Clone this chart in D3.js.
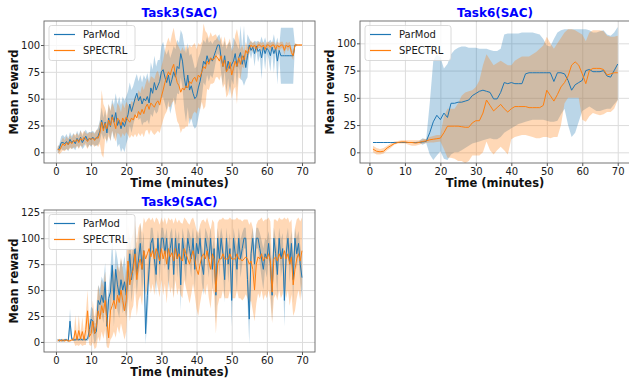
<!DOCTYPE html>
<html>
<head>
<meta charset="utf-8">
<script src="https://cdn.jsdelivr.net/npm/d3@7"></script>
<style>
  body { margin: 0; background: #fff; }
  svg { display: block; font-family: "DejaVu Sans", sans-serif; }
</style>
</head>
<body>
<div id="root"></div>
<script>
// ---- data ----
const seriesNames = ["ParMod", "SPECTRL"];
const xTicks = [0, 10, 20, 30, 40, 50, 60, 70];
const yTicksTask3 = [0, 25, 50, 75, 100];
const yTicksTask6 = [0, 25, 50, 75, 100];
const yTicksTask9 = [0, 25, 50, 75, 100, 125];

// Task3: samples every half minute from 0.5
const task3ParModMean = [
  2, 4, 9, 9, 8, 10, 7, 12, 9, 11,
  8, 13, 10, 14, 9, 12, 15, 11, 13, 12,
  14, 12, 13, 15, 20, 30, 22, 28, 18, 32,
  24, 35, 28, 37, 25, 30, 22, 28, 24, 30,
  35, 45, 38, 44, 50, 55, 48, 52, 45, 50,
  48, 52, 46, 60, 55, 65, 58, 62, 66, 75,
  77, 70, 65, 72, 62, 68, 75, 70, 80, 78,
  92, 85, 70, 60, 72, 58, 62, 55, 50, 52,
  60, 66, 75, 85, 82, 90, 84, 88, 85, 90,
  95, 100, 100, 88, 80, 90, 76, 85, 78, 82,
  85, 92, 80, 88, 93, 82, 90, 79, 90, 100,
  95, 98, 92, 99, 94, 96, 88, 98, 92, 97,
  95, 90, 98, 92, 97, 85, 95, 90, 90, 90,
  90, 90, 90, 90, 90, 100, 100
];
const task3ParModStd = [
  3, 4, 6, 7, 6, 7, 6, 7, 6, 7,
  6, 7, 6, 7, 6, 7, 6, 7, 6, 7,
  6, 6, 7, 8, 10, 12, 10, 12, 10, 13,
  14, 15, 16, 18, 20, 22, 22, 24, 24, 22,
  22, 20, 20, 18, 18, 18, 18, 20, 20, 22,
  20, 22, 20, 24, 22, 25, 22, 24, 20, 24,
  26, 25, 26, 24, 26, 25, 24, 26, 25, 24,
  22, 25, 30, 32, 30, 32, 30, 30, 28, 28,
  28, 26, 24, 20, 20, 18, 18, 16, 16, 14,
  10, 8, 10, 14, 18, 14, 20, 16, 25, 14,
  22, 12, 20, 8, 25, 15, 28, 12, 20, 6,
  8, 4, 12, 4, 10, 6, 20, 4, 15, 4,
  8, 15, 4, 18, 4, 22, 3, 26, 26, 26,
  26, 26, 26, 26, 26, 0, 0
];
const task3SpectrlMean = [
  3, 2, 5, 8, 6, 9, 7, 10, 8, 11,
  10, 12, 9, 13, 11, 14, 12, 10, 13, 12,
  13, 11, 14, 13, 18, 28, 20, 27, 22, 30,
  25, 33, 28, 22, 32, 30, 25, 32, 28, 33,
  30, 28, 32, 30, 35, 32, 38, 35, 40, 36,
  42, 45, 40, 46, 44, 42, 46, 48, 44, 52,
  58, 65, 70, 75, 72, 78, 82, 72, 65, 62,
  56, 60, 58, 62, 60, 66, 64, 68, 70, 66,
  72, 70, 75, 80, 78, 85, 82, 88, 86, 87,
  90, 88, 85, 90, 80, 86, 75, 78, 84, 72,
  78, 85, 80, 88, 82, 90, 86, 95, 92, 97,
  100, 98, 100, 96, 100, 100, 98, 100, 96, 100,
  100, 98, 100, 100, 96, 100, 98, 100, 100, 95,
  100, 98, 100, 93, 90, 100, 100, 100, 100, 100
];
const task3SpectrlStd = [
  3, 4, 5, 6, 5, 6, 5, 6, 5, 6,
  6, 6, 6, 7, 6, 6, 6, 7, 6, 6,
  6, 6, 7, 8, 10, 30, 25, 14, 12, 15,
  14, 13, 14, 12, 14, 13, 12, 14, 13, 14,
  14, 15, 16, 16, 18, 18, 20, 20, 22, 22,
  22, 24, 24, 25, 26, 26, 28, 28, 26, 28,
  28, 30, 32, 32, 30, 32, 34, 34, 36, 36,
  38, 38, 36, 38, 36, 34, 34, 32, 32, 30,
  30, 30, 28, 40, 35, 26, 24, 24, 22, 22,
  20, 18, 18, 18, 20, 22, 24, 24, 22, 22,
  20, 24, 35, 18, 14, 10, 8, 8, 6, 5,
  4, 4, 3, 4, 3, 3, 4, 3, 4, 3,
  3, 4, 3, 3, 4, 3, 4, 3, 3, 4,
  3, 4, 3, 4, 4, 2, 1, 1, 1, 1
];

// Task6: samples every minute from 1
const task6ParModMean = [
  9, 9, 9, 9, 9, 9, 9, 9, 9, 9,
  9, 9, 9, 9, 9.5, 10, 18, 28, 34, 30,
  36, 32, 45, 45, 46, 46, 47, 48, 52, 54,
  56, 57, 56, 55, 49, 49, 55, 64, 63, 64,
  63, 63, 63, 72, 73, 73, 73, 73, 73, 73,
  73, 65, 73, 73, 72, 66, 57, 62, 64, 66,
  75, 76, 74, 74, 74, 75, 70, 69, 75, 81
];
const task6ParModLow = [
  8.5, 8.5, 8.5, 8.5, 8.5, 8.5, 8.5, 8.5, 8.5, 8.5,
  8.5, 8.5, 8.5, 8.5, 7, 8.5, -2, -7, -3, 1,
  -6, -7, -2, 0, 0, 2, 4, 6, 8, 9,
  10, 11, 12, 13, 12, 12, 14, 18, 20, 22,
  24, 26, 27, 28, 29, 30, 30, 30, 30, 29,
  28, 28, 29, 35, 40, 25, 14, 18, 28, 38,
  40, 42, 40, 38, 38, 39, 40, 40, 44, 48
];
const task6ParModHigh = [
  9.5, 9.5, 9.5, 9.5, 9.5, 9.5, 9.5, 9.5, 9.5, 9.5,
  9.5, 9.5, 9.5, 10.5, 13, 12, 45, 84, 90, 87,
  77, 81, 90, 94, 96, 97, 97, 96, 96, 96,
  95, 95, 95, 94, 93, 93, 95, 108, 109, 109,
  109, 109, 110, 110, 110, 110, 109, 108, 104, 98,
  97, 104, 110, 112, 113, 113, 113, 113, 113, 113,
  113, 112, 110, 110, 111, 112, 108, 107, 110, 115
];
const task6SpectrlMean = [
  3, 1, 0.5, 1, 4, 6, 8, 9, 9.5, 9.5,
  9, 9, 8.5, 9, 10, 10.5, 11.5, 12, 12.5, 13,
  18, 24, 24, 24, 24, 23.5, 23, 23, 27, 29,
  29, 36, 48, 43, 38, 41, 44, 40, 37, 40,
  42, 42, 42, 42, 41, 41, 41, 41, 43, 57,
  52, 47, 53, 60, 64, 70, 80, 83, 80, 72,
  63, 75, 77, 77, 77, 76, 71, 72, 73, 73
];
const task6SpectrlLow = [
  0, -2, -2, -1, 2, 4, 7, 8, 8, 8,
  7, 6, 6, 7, 8, 8.5, 9, 9, 9.5, 10,
  3, -5, -5, -6, -8, -8, -10, -8, -3, -3,
  -3, 0, 10, 2, -2, 2, 5, 2, -2, 12,
  14, 15, 16, 16, 15, 14, 13, 13, 14, 14,
  13, 14, 14, 25, 45, 50, 50, 50, 50, 30,
  28, 33, 36, 35, 34, 35, 37, 37, 40, 48
];
const task6SpectrlHigh = [
  6, 4, 3, 4, 6, 8, 10, 10.5, 11, 11,
  11, 11, 11, 11, 12, 12.5, 14, 15, 16, 16,
  33, 40, 40, 40, 45, 52, 55, 56, 57, 60,
  66, 80, 90, 85, 80, 82, 84, 82, 80, 80,
  84, 86, 88, 88, 88, 90, 92, 95, 98, 106,
  100, 95, 100, 105, 110, 113, 113, 112, 110, 108,
  102, 110, 112, 112, 112, 111, 107, 106, 106, 107
];

// Task9: samples every half minute from 0.5
const task9ParModMean = [
  2, 1, 2, 1, 2, 2, 1, 20, 3, 2,
  2, 3, 2, 3, 2, 3, 2, 3, 12, 22,
  20, 8, 10, 40, 36, 45, 38, 58, 15, 42,
  48, 74, 40, 70, 55, 45, 60, 50, 58, 45,
  62, 85, 60, 75, 90, 65, 80, 95, 70, 88,
  8, 45, 70, 95, 100, 80, 65, 100, 75, 100,
  100, 85, 100, 70, 90, 100, 65, 100, 80, 95,
  55, 100, 85, 75, 100, 90, 80, 100, 70, 95,
  85, 100, 75, 65, 100, 90, 80, 100, 70, 90,
  45, 100, 80, 100, 85, 60, 100, 75, 90, 40,
  100, 85, 70, 100, 80, 90, 100, 100, 60, 22,
  85, 100, 75, 100, 100, 90, 80, 70, 85, 80,
  95, 75, 45, 100, 85, 65, 100, 80, 90, 40,
  85, 100, 75, 95, 60, 100, 85, 95, 75, 62
];
const task9ParModStd = [
  1, 1, 1, 1, 1, 1, 1, 12, 2, 1,
  1, 2, 1, 2, 1, 2, 1, 2, 8, 12,
  12, 10, 8, 15, 15, 18, 20, 18, 20, 10,
  22, 25, 25, 20, 25, 22, 20, 22, 25, 22,
  20, 20, 22, 18, 22, 20, 15, 20, 22, 18,
  10, 25, 20, 15, 10, 15, 20, 8, 18, 10,
  10, 15, 10, 20, 15, 10, 22, 10, 18, 12,
  25, 10, 15, 18, 10, 15, 18, 10, 20, 12,
  15, 10, 18, 20, 10, 15, 18, 10, 20, 12,
  28, 10, 18, 10, 15, 22, 10, 18, 15, 25,
  10, 15, 22, 10, 18, 15, 10, 10, 22, 24,
  15, 10, 18, 10, 10, 15, 18, 20, 15, 18,
  12, 18, 25, 10, 15, 22, 10, 18, 15, 25,
  15, 10, 18, 12, 22, 10, 15, 12, 18, 20
];
const task9SpectrlMean = [
  1, 2, 1, 2, 1, 2, 1, 1, 2, 2,
  11, 2, 11, 3, 10, 2, 12, 30, 5, 8,
  20, 8, 15, 30, 22, 35, 28, 40, 20, 4,
  30, 35, 40, 32, 45, 38, 50, 40, 30, 40,
  78, 55, 65, 70, 85, 60, 75, 80, 70, 88,
  80, 85, 90, 82, 88, 80, 90, 85, 78, 90,
  80, 88, 75, 90, 82, 86, 78, 90, 80, 85,
  80, 78, 90, 85, 80, 75, 82, 88, 80, 70,
  65, 75, 82, 85, 80, 88, 78, 70, 85, 80,
  48, 75, 80, 80, 85, 80, 80, 80, 85, 80,
  80, 80, 85, 80, 80, 78, 80, 82, 80, 75,
  78, 70, 50, 75, 82, 80, 85, 78, 82, 80,
  85, 78, 48, 80, 82, 78, 85, 80, 82, 88,
  80, 85, 75, 82, 55, 70, 80, 85, 78, 88
];
const task9SpectrlStd = [
  1, 1, 1, 1, 1, 1, 1, 1, 1, 1,
  15, 5, 15, 5, 14, 5, 15, 20, 8, 12,
  20, 15, 20, 25, 22, 25, 25, 28, 25, 10,
  28, 30, 30, 28, 30, 30, 32, 30, 28, 30,
  35, 35, 35, 35, 32, 35, 35, 35, 35, 32,
  35, 33, 30, 35, 32, 35, 30, 33, 35, 30,
  35, 32, 38, 30, 35, 33, 36, 30, 35, 33,
  35, 36, 30, 33, 35, 38, 36, 32, 35, 38,
  40, 38, 35, 33, 35, 32, 36, 38, 33, 35,
  40, 40, 38, 38, 35, 38, 38, 38, 35, 38,
  38, 38, 35, 38, 38, 38, 38, 36, 38, 38,
  38, 40, 30, 38, 35, 38, 35, 38, 36, 38,
  35, 38, 30, 38, 36, 38, 35, 38, 36, 32,
  38, 35, 40, 36, 30, 40, 38, 35, 38, 32
];

// sample times
const halfMinuteTimes = d3.range(1, 141).map(i => i / 2);
const wholeMinuteTimes = d3.range(1, 71);

// ---- layout ----
const width = 629;
const height = 382;
const colors = ["#1f77b4", "#ff7f0e"];

const fromStd = (times, mean, std) =>
  mean.map((m, i) => ({ t: times[i], mean: m, lo: m - std[i], hi: m + std[i] }));
const fromRange = (times, mean, lo, hi) =>
  mean.map((m, i) => ({ t: times[i], mean: m, lo: lo[i], hi: hi[i] }));

const panels = [
  {
    title: "Task3(SAC)", left: 44, right: 315, top: 21, bottom: 163,
    xDomain: [-3.4, 73.7], yDomain: [-10, 122.4], yTicks: yTicksTask3,
    series: [
      fromStd(halfMinuteTimes, task3ParModMean, task3ParModStd),
      fromStd(halfMinuteTimes, task3SpectrlMean, task3SpectrlStd)
    ]
  },
  {
    title: "Task6(SAC)", left: 360, right: 630, top: 21, bottom: 163,
    xDomain: [-2.66, 73.46], yDomain: [-9.8, 120.5], yTicks: yTicksTask6,
    series: [
      fromRange(wholeMinuteTimes, task6ParModMean, task6ParModLow, task6ParModHigh),
      fromRange(wholeMinuteTimes, task6SpectrlMean, task6SpectrlLow, task6SpectrlHigh)
    ]
  },
  {
    title: "Task9(SAC)", left: 44, right: 315, top: 210, bottom: 352,
    xDomain: [-3.4, 73.7], yDomain: [-9.7, 127.2], yTicks: yTicksTask9,
    series: [
      fromStd(halfMinuteTimes, task9ParModMean, task9ParModStd),
      fromStd(halfMinuteTimes, task9SpectrlMean, task9SpectrlStd)
    ]
  }
];

const svg = d3.select("#root")
  .append("svg")
    .attr("width", width)
    .attr("height", height);

const defs = svg.append("defs");

panels.forEach((p, pi) => {
  const x = d3.scaleLinear().domain(p.xDomain).range([p.left, p.right]);
  const y = d3.scaleLinear().domain(p.yDomain).range([p.bottom, p.top]);
  const g = svg.append("g");

  // grid
  g.append("g")
    .attr("transform", `translate(0, ${p.bottom})`)
    .call(d3.axisBottom(x).tickValues(xTicks).tickSize(-(p.bottom - p.top)).tickFormat(""))
    .call(a => a.select(".domain").remove())
    .call(a => a.selectAll("line").attr("stroke", "#dcdcdc").attr("stroke-width", 1));
  g.append("g")
    .attr("transform", `translate(${p.left}, 0)`)
    .call(d3.axisLeft(y).tickValues(p.yTicks).tickSize(-(p.right - p.left)).tickFormat(""))
    .call(a => a.select(".domain").remove())
    .call(a => a.selectAll("line").attr("stroke", "#dcdcdc").attr("stroke-width", 1));

  // clipped data
  defs.append("clipPath")
    .attr("id", `clip${pi}`)
    .append("rect")
      .attr("x", p.left).attr("y", p.top)
      .attr("width", p.right - p.left).attr("height", p.bottom - p.top);

  const plot = g.append("g").attr("clip-path", `url(#clip${pi})`);
  const area = d3.area().x(d => x(d.t)).y0(d => y(d.lo)).y1(d => y(d.hi));
  const meanLine = d3.line().x(d => x(d.t)).y(d => y(d.mean));

  // bands first, mean lines on top
  p.series.forEach((s, si) => {
    plot.append("path")
      .attr("d", area(s))
      .attr("fill", colors[si])
      .attr("fill-opacity", 0.3);
  });
  p.series.forEach((s, si) => {
    plot.append("path")
      .attr("d", meanLine(s))
      .attr("fill", "none")
      .attr("stroke", colors[si])
      .attr("stroke-width", 1);
  });

  // axes
  const xAxis = g.append("g")
    .attr("transform", `translate(0, ${p.bottom})`)
    .call(d3.axisBottom(x).tickValues(xTicks).tickSize(3).tickPadding(1.5).tickSizeOuter(0));
  const yAxis = g.append("g")
    .attr("transform", `translate(${p.left}, 0)`)
    .call(d3.axisLeft(y).tickValues(p.yTicks).tickSize(3).tickPadding(0.8).tickSizeOuter(0));
  [xAxis, yAxis].forEach(a => {
    a.select(".domain").remove();
    a.selectAll("line").attr("stroke", "#555");
    a.selectAll("text")
      .attr("fill", "#1a1a1a")
      .style("font-size", "10px")
      .style("font-family", "DejaVu Sans, sans-serif");
  });

  // frame
  g.append("rect")
    .attr("x", p.left).attr("y", p.top)
    .attr("width", p.right - p.left).attr("height", p.bottom - p.top)
    .attr("fill", "none")
    .attr("stroke", "#666")
    .attr("stroke-width", 0.9);

  // labels
  const cx = (p.left + p.right) / 2;
  g.append("text")
    .text(p.title)
    .attr("x", cx).attr("y", p.top - 3.7)
    .attr("text-anchor", "middle")
    .attr("fill", "#0000ff")
    .style("font-size", "12px")
    .style("font-weight", "bold");
  g.append("text")
    .text("Time (minutes)")
    .attr("x", cx).attr("y", p.bottom + 23.5)
    .attr("text-anchor", "middle")
    .attr("fill", "#111")
    .style("font-size", "11.5px")
    .style("font-weight", "bold");
  g.append("text")
    .text("Mean reward")
    .attr("transform", `translate(${p.left - 26.3}, ${(p.top + p.bottom) / 2}) rotate(-90)`)
    .attr("text-anchor", "middle")
    .attr("fill", "#111")
    .style("font-size", "11.5px")
    .style("font-weight", "bold");

  // legend
  const lg = g.append("g").attr("transform", `translate(${p.left + 5}, ${p.top + 4.5})`);
  lg.append("rect")
    .attr("width", 86).attr("height", 35)
    .attr("rx", 2.5)
    .attr("fill", "#fff").attr("fill-opacity", 0.8)
    .attr("stroke", "#d0d0d0").attr("stroke-width", 0.8);
  seriesNames.forEach((name, si) => {
    const ly = 9 + si * 16;
    lg.append("line")
      .attr("x1", 5).attr("x2", 26)
      .attr("y1", ly).attr("y2", ly)
      .attr("stroke", colors[si]).attr("stroke-width", 1.2);
    lg.append("text")
      .text(name)
      .attr("x", 34).attr("y", ly + 3.6)
      .attr("fill", "#1a1a1a")
      .style("font-size", "10px");
  });
});
</script>
</body>
</html>
